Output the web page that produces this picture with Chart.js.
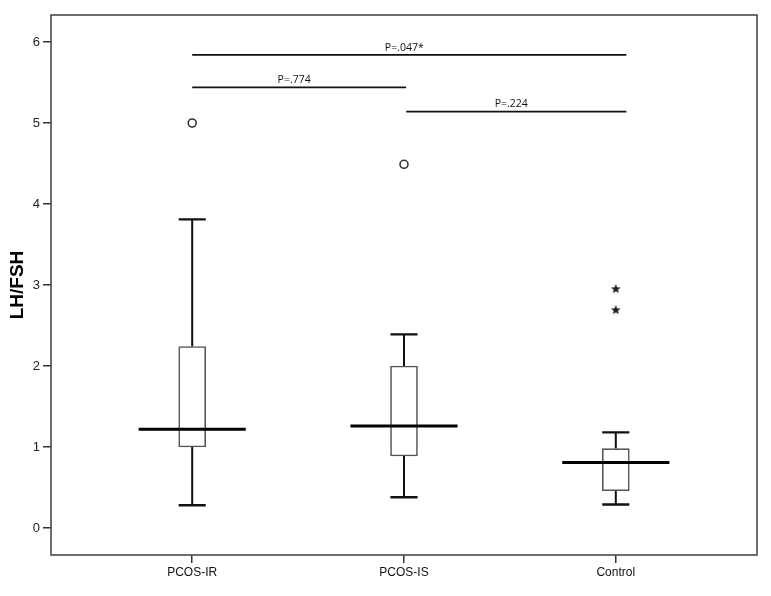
<!DOCTYPE html>
<html lang="en">
<head>
    <meta charset="UTF-8">
    <title>LH/FSH box plot</title>
    <script src="https://cdn.jsdelivr.net/npm/chart.js@4.4.1/dist/chart.umd.min.js"></script>
    <style>
        body { margin: 0; background: #fff; }
        canvas { display: block; }
    </style>
</head>
<body>
    <canvas id="boxplot" width="771" height="596"></canvas>
    <script>
        // Data
        const groups = ['PCOS-IR', 'PCOS-IS', 'Control'];
        const whiskerLow = [0.28, 0.38, 0.29];
        const quartile1 = [1.00, 0.89, 0.46];
        const medians = [1.22, 1.26, 0.81];
        const quartile3 = [2.24, 2.00, 0.98];
        const whiskerHigh = [3.81, 2.39, 1.18];
        const outlierGroup = [0, 1];
        const outlierValue = [5.00, 4.49];
        const extremeGroup = [2, 2];
        const extremeValue = [2.95, 2.69];
        const yTicks = [0, 1, 2, 3, 4, 5, 6];
        const pLabels = ['P=.047*', 'P=.774', 'P=.224'];
        const pFrom = [0, 0, 1.01];
        const pTo = [2.05, 1.01, 2.05];
        const pLevel = [5.84, 5.44, 5.14];

        const capHalf = 0.064;
        const medianHalf = 0.253;
        const gap = i => ({ x: i, y: null });

        // small filled star for the extreme values
        function makeStar(size) {
            const c = document.createElement('canvas');
            c.width = size; c.height = size;
            const g = c.getContext('2d');
            const r = size / 2, r2 = r * 0.45;
            g.beginPath();
            for (let k = 0; k < 10; k++) {
                const rad = k % 2 === 0 ? r : r2;
                const a = -Math.PI / 2 + k * Math.PI / 5;
                const px = r + rad * Math.cos(a), py = r + rad * Math.sin(a);
                k === 0 ? g.moveTo(px, py) : g.lineTo(px, py);
            }
            g.closePath();
            g.fillStyle = '#222';
            g.fill();
            return c;
        }

        const whiskerData = groups.flatMap((g, i) => [
            { x: i, y: whiskerHigh[i] }, { x: i, y: quartile3[i] }, gap(i),
            { x: i, y: quartile1[i] }, { x: i, y: whiskerLow[i] }, gap(i)
        ]);
        const capData = groups.flatMap((g, i) => [
            { x: i - capHalf, y: whiskerHigh[i] }, { x: i + capHalf, y: whiskerHigh[i] }, gap(i),
            { x: i - capHalf, y: whiskerLow[i] }, { x: i + capHalf, y: whiskerLow[i] }, gap(i)
        ]);
        const medianData = groups.flatMap((g, i) => [
            { x: i - medianHalf, y: medians[i] }, { x: i + medianHalf, y: medians[i] }, gap(i)
        ]);
        const bracketData = pLabels.flatMap((l, k) => [
            { x: pFrom[k], y: pLevel[k] }, { x: pTo[k], y: pLevel[k] }, gap(pTo[k])
        ]);

        const lineSet = (data, color, width) => ({
            type: 'line', data, borderColor: color, borderWidth: width, order: 1,
            pointRadius: 0, spanGaps: false, fill: false, tension: 0, borderCapStyle: 'butt'
        });

        // frame around plot + p-value labels
        const framePlugin = {
            id: 'frame',
            afterDraw(chart) {
                const { ctx, chartArea: a, scales } = chart;
                ctx.save();
                ctx.strokeStyle = '#4a4a4a';
                ctx.lineWidth = 1.6;
                ctx.strokeRect(a.left, a.top, a.right - a.left, a.bottom - a.top);
                ctx.fillStyle = '#111';
                ctx.font = '10.5px "Open Sans", sans-serif';
                ctx.textAlign = 'center';
                ctx.textBaseline = 'bottom';
                pLabels.forEach((label, k) => {
                    const xm = scales.x.getPixelForValue((pFrom[k] + pTo[k]) / 2) - 5;
                    const yp = scales.y.getPixelForValue(pLevel[k]) - 2;
                    ctx.fillText(label, xm, yp);
                });
                ctx.restore();
            }
        };

        new Chart(document.getElementById('boxplot'), {
            type: 'scatter',
            data: {
                datasets: [
                    {
                        type: 'bar',
                        order: 2,
                        data: groups.map((g, i) => ({ x: i, y: [quartile1[i], quartile3[i]] })),
                        barThickness: 27,
                        backgroundColor: '#fff',
                        borderColor: '#555',
                        borderWidth: 1.6,
                        borderSkipped: false
                    },
                    lineSet(medianData, '#000', 3),
                    lineSet(capData, '#111', 2.4),
                    lineSet(bracketData, '#111', 1.8),
                    {
                        order: 1,
                        data: outlierGroup.map((g, k) => ({ x: g, y: outlierValue[k] })),
                        pointStyle: 'circle',
                        pointRadius: 4,
                        pointBorderWidth: 1.6,
                        pointBorderColor: '#333',
                        pointBackgroundColor: '#fff'
                    },
                    {
                        order: 1,
                        data: extremeGroup.map((g, k) => ({ x: g, y: extremeValue[k] })),
                        pointStyle: makeStar(10),
                        pointRadius: 5
                    },
                    Object.assign(lineSet(whiskerData, '#111', 2), { order: 3 })
                ]
            },
            options: {
                responsive: false,
                animation: false,
                layout: { padding: { top: 15, right: 14, left: 0, bottom: 0 } },
                plugins: { legend: { display: false }, tooltip: { enabled: false } },
                scales: {
                    x: {
                        type: 'linear',
                        min: -2 / 3,
                        max: 2 + 2 / 3,
                        offset: false,
                        afterBuildTicks: s => { s.ticks = groups.map((g, i) => ({ value: i })); },
                        afterFit: s => { s.height = 41; },
                        border: { display: false },
                        grid: { offset: false, drawOnChartArea: false, tickLength: 8, color: '#333', lineWidth: 1.5 },
                        ticks: {
                            callback: v => groups[v],
                            color: '#111',
                            padding: 2,
                            maxRotation: 0,
                            font: { family: '"Liberation Sans", Arial, sans-serif', size: 12 }
                        }
                    },
                    y: {
                        min: -1 / 3,
                        max: 6 + 1 / 3,
                        afterBuildTicks: s => { s.ticks = yTicks.map(v => ({ value: v })); },
                        afterFit: s => { s.width = 51; },
                        border: { display: false },
                        grid: { drawOnChartArea: false, tickLength: 8, color: '#333', lineWidth: 1.5 },
                        ticks: {
                            color: '#222',
                            padding: 3,
                            font: { family: '"Liberation Sans", Arial, sans-serif', size: 13 }
                        },
                        title: {
                            display: true,
                            text: 'LH/FSH',
                            color: '#000',
                            padding: { top: 6, bottom: 0 },
                            font: { family: '"Liberation Sans", Arial, sans-serif', size: 19, weight: 'bold' }
                        }
                    }
                }
            },
            plugins: [framePlugin]
        });
    </script>
</body>
</html>
